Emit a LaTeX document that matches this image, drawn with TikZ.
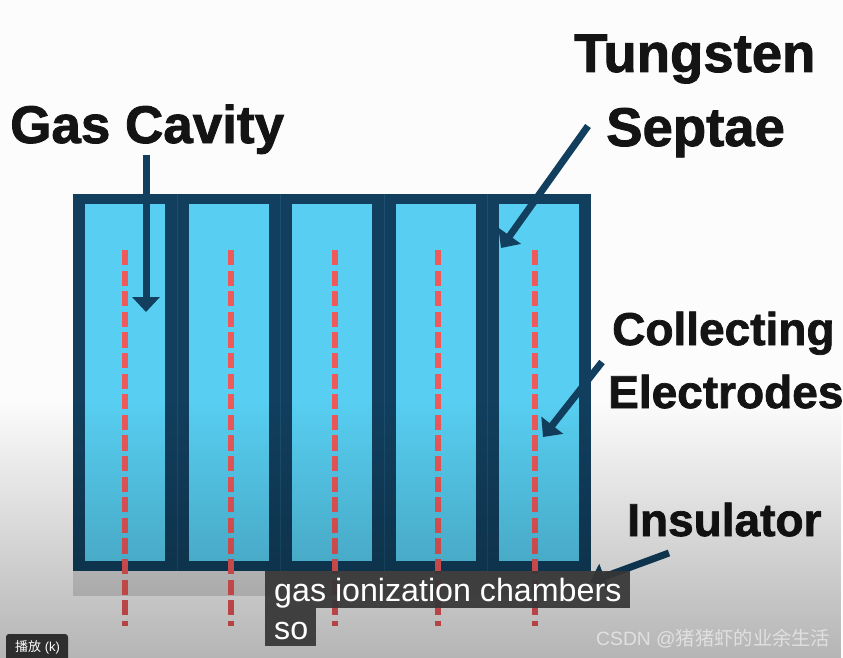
\documentclass[tikz,border=0pt]{standalone}
\usepackage{fontspec}
\setmainfont{Liberation Sans}[BoldFeatures={FakeBold=1.6}]
\newfontfamily\cjkfont{Noto Sans CJK SC}
\usetikzlibrary{arrows.meta,fadings}
\definecolor{navy}{HTML}{123F5E}
\definecolor{cellblue}{HTML}{58CFF2}
\definecolor{dashred}{HTML}{F0595A}
\definecolor{capbox}{HTML}{363636}
\tikzfading[name=darkdown,top color=transparent!100,bottom color=transparent!72]
\tikzset{
  cell/.style={fill=cellblue,draw=none},
  electrode/.style={draw=dashred,line width=6.5pt,dash pattern=on 15.2pt off 5.4pt},
  pointer/.style={draw=navy,line width=7pt,-{Triangle[width=27pt,length=15pt]}},
  bigl/.style={anchor=base west,inner sep=0pt,font=\bfseries\fontsize{53}{60}\selectfont,text=black!92},
  midl/.style={anchor=base west,inner sep=0pt,font=\bfseries\fontsize{46}{52}\selectfont,text=black!92},
  captext/.style={anchor=base west,inner sep=0pt,text=white,font=\fontsize{32.2}{36}\selectfont},
  capfill/.style={fill=capbox,fill opacity=0.93,draw=none},
}
\begin{document}
\begin{tikzpicture}[x=1pt,y=-1pt]
\useasboundingbox (0,0) rectangle (843,658);
\fill[white!99!black] (0,0) rectangle (843,658);
% insulator and frame
\fill[black!15] (73,571) rectangle (591,596);
\fill[navy] (73,194) rectangle (591,571);
\foreach \x in {177,280,384,487}{
  \draw[navy!88!cellblue,line width=0.6pt] (\x,194) -- (\x,571);
}
% cells
\foreach \a/\b in {85/165,189/269,292/372,396/476,499/579}{
  \fill[cell] (\a,204) rectangle (\b,561);
}
% electrodes
\foreach \x in {125,231,335,438,535}{
  \draw[electrode] (\x,250) -- (\x,626);
}
% labels
\node[bigl] (gas) at (10,143) {Gas Cavity};
\node[bigl,font=\bfseries\fontsize{54.5}{60}\selectfont] (tung) at (574,72) {Tungsten};
\node[bigl,font=\bfseries\fontsize{54.5}{60}\selectfont] (sept) at (606,146) {Septae};
\node[midl] (coll) at (612,345) {Collecting};
\node[midl] (elec) at (608,408) {Electrodes};
\node[midl] (insu) at (627,536) {Insulator};
% arrow ends
\coordinate (gasS) at (146,155);
\coordinate (gasE) at (146,312);
\coordinate (tunS) at (588,126);
\coordinate (tunE) at (501,248);
\coordinate (colS) at (602,362);
\coordinate (colE) at (543,437);
\coordinate (insS) at (669,553);
\coordinate (insE) at (590,582);
\draw[pointer] (gasS) -- (gasE);
\draw[pointer] (tunS) -- (tunE);
\draw[pointer] (colS) -- (colE);
\draw[pointer] (insS) -- (insE);
% video darkening towards the bottom
\fill[black,path fading=darkdown] (0,400) rectangle (843,658);
% caption
\fill[capfill] (265,571) rectangle (630,608);
\fill[capfill] (265,608) rectangle (316,646);
\node[captext] (cap1) at (274,601) {gas ionization chambers};
\node[captext] (cap2) at (274,639) {so};
% player tooltip
\fill[black!82,rounded corners=3pt] (6,634) rectangle (68,662);
\node[anchor=base west,inner sep=0pt,text=white,font=\fontsize{13}{14}\selectfont] (tip) at (15,651) {{\cjkfont 播放} (k)};
% watermark
\node[anchor=base west,inner sep=0pt,text=white!88!black,font=\fontsize{19.3}{22}\selectfont] (mark) at (596,645) {CSDN @{\cjkfont 猪猪虾的业余生活}};
\end{tikzpicture}
\end{document}
